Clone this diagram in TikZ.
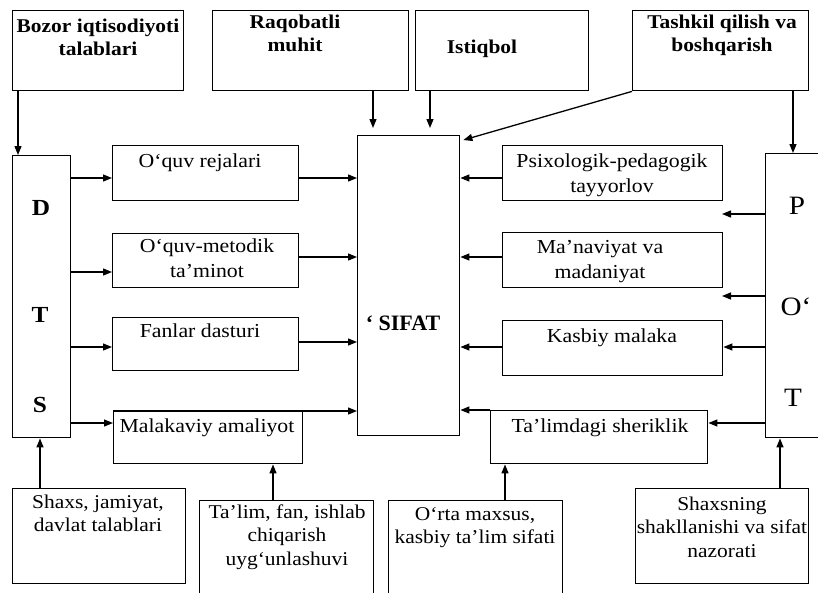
\documentclass[tikz,border=0pt]{standalone}
\usepackage{fontspec}
\setmainfont{Liberation Serif}[FakeStretch=1.1]
\newfontfamily\plainfont{Liberation Serif}
\usetikzlibrary{arrows.meta,calc}
\newcommand\fst{\rule{0pt}{14pt}}
\begin{document}
\begin{tikzpicture}[x=1pt,y=-1pt,
  box/.style={draw, line width=1.4pt, inner sep=0pt, anchor=north west},
  txt/.style={inner sep=0pt, align=center, anchor=north, font=\fontsize{19.8}{25}\selectfont},
  ltxt/.style={inner sep=0pt, align=center, anchor=north, font=\fontsize{19.5}{23.5}\selectfont},
  btxt/.style={inner sep=0pt, align=center, anchor=north, font=\fontsize{19.5}{23.5}\selectfont\bfseries},
  dletter/.style={inner sep=0pt, anchor=base, font=\fontsize{23}{24}\selectfont\bfseries},
  pletter/.style={inner sep=0pt, anchor=base, font=\fontsize{26.5}{28}\selectfont},
  arr/.style={line width=1.3pt, -{Triangle[length=9pt,width=7pt]}}]
\useasboundingbox (0,0) rectangle (818,592);

% top boxes
\node[box, minimum width=171pt, minimum height=80pt] (bozor) at (12,10) {};
\node[box, minimum width=196pt, minimum height=80pt] (raq) at (212,10) {};
\node[box, minimum width=173pt, minimum height=80pt] (ist) at (415,10) {};
\node[box, minimum width=176pt, minimum height=80pt] (tash) at (632,10) {};
% columns
\node[box, minimum width=58pt, minimum height=282pt] (dts) at (12,155) {};
\node[box, minimum width=102pt, minimum height=300pt] (sifat) at (357,135) {};
\node[box, minimum width=80pt, minimum height=284pt] (pot) at (765,153) {};
% left middle
\node[box, minimum width=186pt, minimum height=55pt] (rej) at (112,145) {};
\node[box, minimum width=186pt, minimum height=54pt] (met) at (112,233) {};
\node[box, minimum width=186pt, minimum height=53pt] (fan) at (112,317) {};
\node[box, minimum width=189pt, minimum height=52pt] (mal) at (113,411) {};
% right middle
\node[box, minimum width=220pt, minimum height=55pt] (psi) at (502,145) {};
\node[box, minimum width=220pt, minimum height=55pt] (man) at (502,232) {};
\node[box, minimum width=220pt, minimum height=55pt] (kas) at (502,320) {};
\node[box, minimum width=217pt, minimum height=53pt] (sher) at (490,410) {};
% bottom
\node[box, minimum width=173pt, minimum height=95pt] (shx) at (12,488) {};
\node[box, minimum width=174pt, minimum height=120pt] (tal) at (199,500) {};
\node[box, minimum width=174pt, minimum height=120pt] (orta) at (388,500) {};
\node[box, minimum width=173pt, minimum height=95pt] (shxn) at (635,488) {};

% texts
\node[btxt] (tbozor) at (98,18) {\fst Bozor iqtisodiyoti\\talablari};
\node[btxt] (traq) at (295,14) {\fst Raqobatli\\muhit};
\node[btxt] (tist) at (482,39) {\fst Istiqbol};
\node[btxt] (ttash) at (722,14) {\fst Tashkil qilish va\\boshqarish};

\node[txt] (trej) at (200,153) {\fst O‘quv rejalari};
\node[txt] (tmet) at (207,238) {\fst O‘quv-metodik\\ta’minot};
\node[txt] (tfan) at (200,323) {\fst Fanlar dasturi};
\node[txt] (tmal) at (207,418) {\fst Malakaviy amaliyot};

\node[txt] (tpsi) at (612,153) {\fst Psixologik-pedagogik\\tayyorlov};
\node[txt] (tman) at (600,239) {\fst Ma’naviyat va\\madaniyat};
\node[txt] (tkas) at (612,328) {\fst Kasbiy malaka};
\node[txt] (tsher) at (600,418) {\fst Ta’limdagi sheriklik};

\node[ltxt] (tshx) at (98,494) {\fst Shaxs, jamiyat,\\davlat talablari};
\node[ltxt] (ttal) at (287,504) {\fst Ta’lim, fan, ishlab\\chiqarish\\uyg‘unlashuvi};
\node[ltxt] (torta) at (475,506) {\fst O‘rta maxsus,\\kasbiy ta’lim sifati};
\node[ltxt] (tshxn) at (722,496) {\fst Shaxsning\\shakllanishi va sifat\\nazorati};

\node[dletter] (ld) at (41,215) {D};
\node[dletter] (lt) at (40,322) {T};
\node[dletter] (ls) at (40,412) {S};
\node[pletter] (lp) at (797,214) {P};
\node[pletter] (lo) at (796,315) {O‘};
\node[pletter] (lt2) at (793,406) {T};
\node[inner sep=0pt, anchor=base, font=\plainfont\fontsize{22}{24}\selectfont\bfseries] (tsifat) at (403,330) {‘ SIFAT};

\coordinate (f1) at (722,214);
\coordinate (f2) at (722,296);

% connectors top
\draw[arr] (bozor.south -| 18,0) -- (dts.north -| 18,0);
\draw[arr, shorten >=7pt] (raq.south -| 373,0) -- (sifat.north -| 373,0);
\draw[arr, shorten >=7pt] (ist.south -| 430,0) -- (sifat.north -| 430,0);
\draw[arr] (tash.south west) -- ($(sifat.north east)+(3,5)$);
\draw[arr] (tash.south -| 793,0) -- (pot.north -| 793,0);
% DTS to left boxes
\draw[arr] (dts.east |- 0,178) -- (rej.west |- 0,178);
\draw[arr] (dts.east |- 0,272) -- (met.west |- 0,272);
\draw[arr] (dts.east |- 0,347) -- (fan.west |- 0,347);
\draw[arr] (dts.east |- 0,423) -- (mal.west |- 0,423);
% left boxes to SIFAT
\draw[arr] (rej.east |- 0,178) -- (sifat.west |- 0,178);
\draw[arr] (met.east |- 0,257) -- (sifat.west |- 0,257);
\draw[arr] (fan.east |- 0,342) -- (sifat.west |- 0,342);
\draw[arr] (mal.north west) -- (sifat.west |- mal.north west);
% right boxes to SIFAT
\draw[arr] (psi.west |- 0,178) -- (sifat.east |- 0,178);
\draw[arr] (man.west |- 0,257) -- (sifat.east |- 0,257);
\draw[arr] (kas.west |- 0,347) -- (sifat.east |- 0,347);
\draw[arr] (sher.north west) -- (sifat.east |- sher.north west);
% POT
\draw[arr] (pot.west |- f1) -- (f1);
\draw[arr] (pot.west |- f2) -- (f2);
\draw[arr] (pot.west |- 0,347) -- (kas.east |- 0,347);
\draw[arr] (pot.west |- 0,423) -- (sher.east |- 0,423);
% bottom
\draw[arr] (shx.north -| 40,0) -- (dts.south -| 40,0);
\draw[arr] (tal.north -| 273,0) -- (mal.south -| 273,0);
\draw[arr] (orta.north -| 505,0) -- (sher.south -| 505,0);
\draw[arr] (shxn.north -| 780,0) -- (pot.south -| 780,0);
\end{tikzpicture}
\end{document}
